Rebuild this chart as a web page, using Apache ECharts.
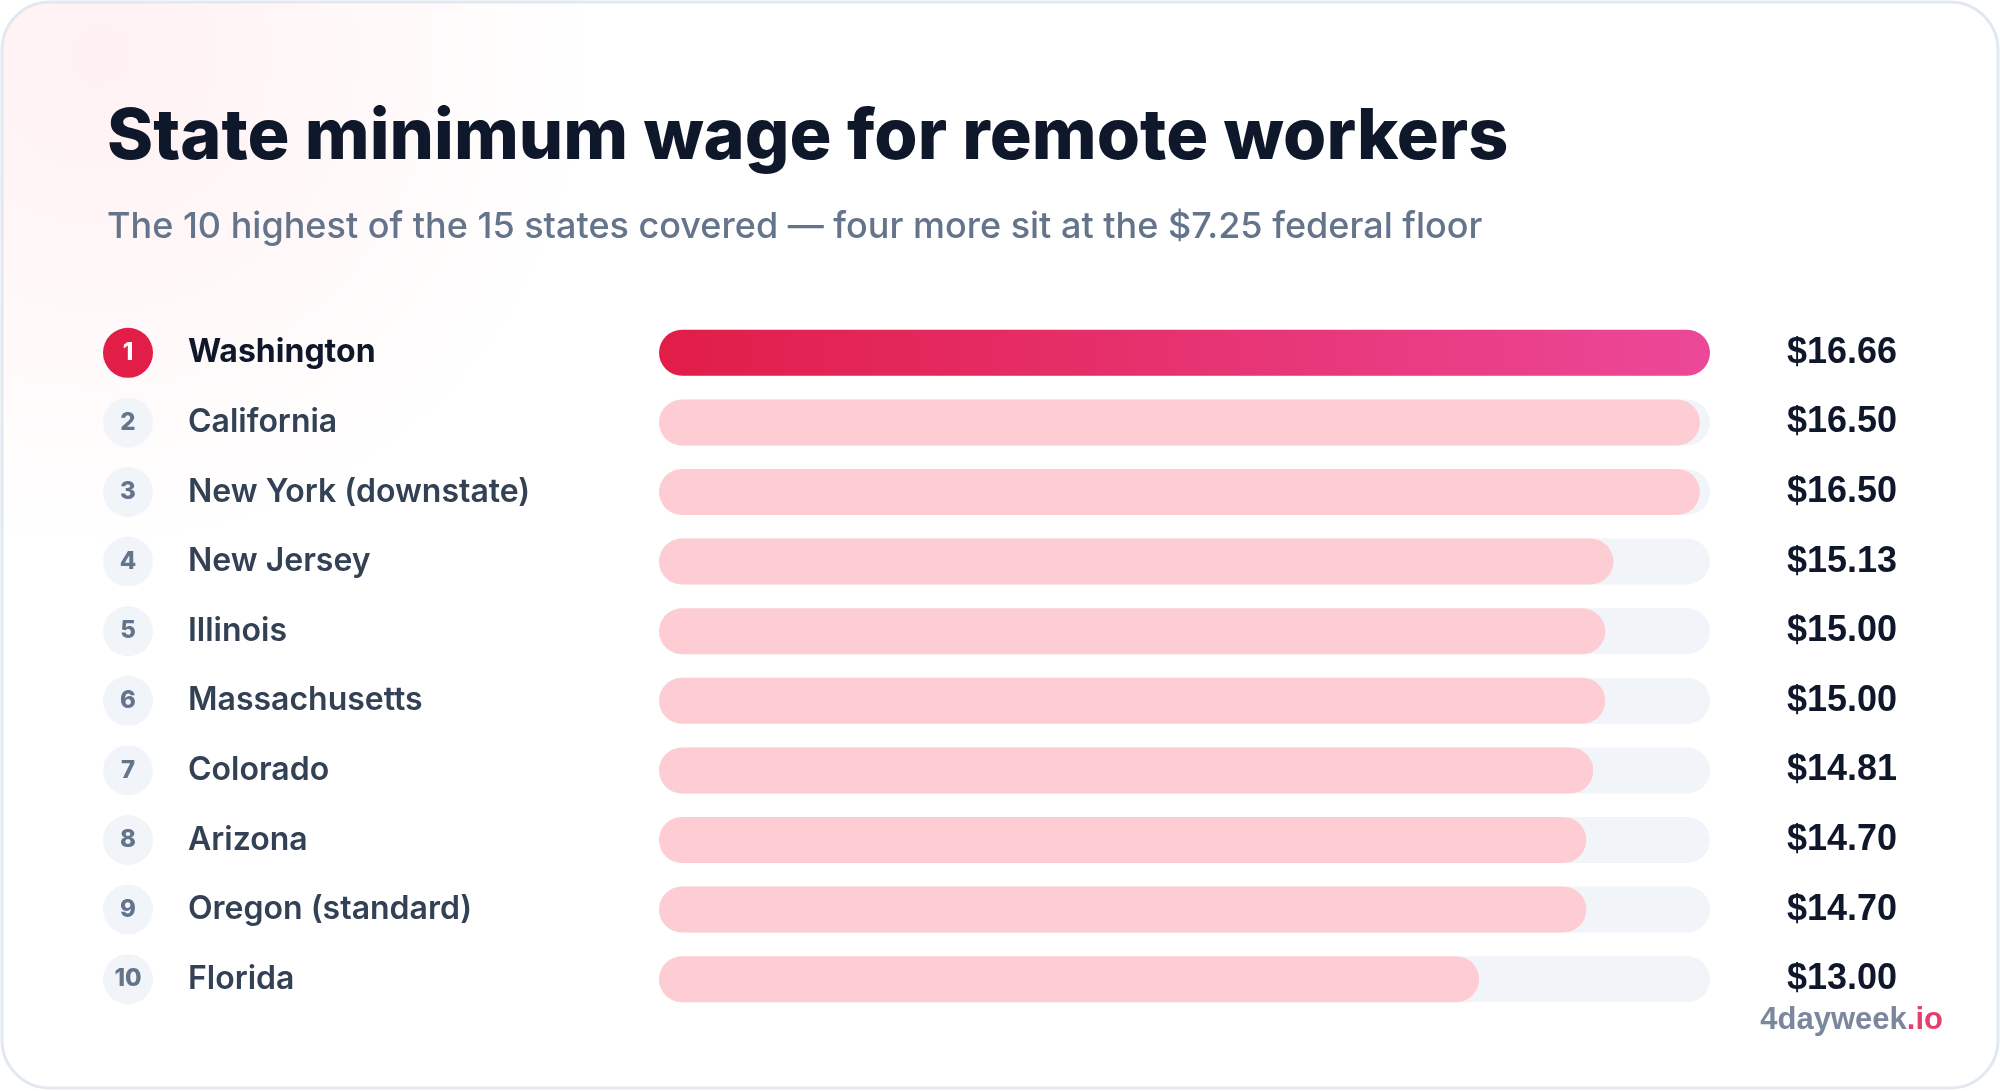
<!DOCTYPE html>
<html><head><meta charset="utf-8">
<script src="https://cdn.jsdelivr.net/npm/echarts@6/dist/echarts.min.js"></script>
<style>html,body{margin:0;padding:0;background:#fff}#c{width:2000px;height:1091px}</style>
</head><body><div id="c"></div>
<script>
const states = ['Washington','California','New York (downstate)','New Jersey','Illinois','Massachusetts','Colorado','Arizona','Oregon (standard)','Florida'];
const wages = [16.66,16.50,16.50,15.13,15.00,15.00,14.81,14.70,14.70,13.00];
const maxWage = 16.66;

const chart = echarts.init(document.getElementById('c'));
const font = 'Inter, "Noto Sans", sans-serif';
chart.setOption({
  animation:false,
  graphic:[
    {type:'rect',z:-10,shape:{x:2,y:2,width:1996,height:1086,r:48},
     style:{fill:{type:'radial',x:0.05,y:0.05,r:0.45,colorStops:[{offset:0,color:'#fff1f2'},{offset:1,color:'#ffffff'}]},stroke:'#e2e8f0',lineWidth:3}},
    {type:'text',right:57,top:1005,z:10,style:{rich:{a:{fill:'#7b879c',font:'bold 31px "Liberation Sans", Arial, sans-serif'},b:{fill:'#e83e6c',font:'bold 31px "Liberation Sans", Arial, sans-serif'}},text:'{a|4dayweek}{b|.io}'}}
  ],
  title:{left:102,top:98,text:'State minimum wage for remote workers',
    subtext:'The 10 highest of the 15 states covered — four more sit at the $7.25 federal floor',
    itemGap:36,
    textStyle:{fontFamily:font,fontSize:70,fontWeight:800,color:'#0f172a'},
    subtextStyle:{fontFamily:font,fontSize:36,fontWeight:500,color:'#64748b'}},
  grid:{left:659,right:290,top:318,bottom:77},
  xAxis:{type:'value',min:0,max:maxWage,show:false},
  yAxis:[
    {type:'category',data:states,inverse:true,axisLine:{show:false},axisTick:{show:false},
     axisLabel:{margin:556,align:'left',
       formatter:(v,i)=> i===0 ? `{r1|${i+1}}{n1|${v}}` : `{r|${i+1}}{n|${v}}`,
       rich:{
        r1:{width:50,height:50,borderRadius:25,backgroundColor:'#e11d48',color:'#fff',align:'center',fontFamily:font,fontSize:24,fontWeight:800},
        r:{width:50,height:50,borderRadius:25,backgroundColor:'#f1f5f9',color:'#64748b',align:'center',fontFamily:font,fontSize:24,fontWeight:800},
        n1:{padding:[0,0,0,35],color:'#0f172a',fontFamily:font,fontSize:32,fontWeight:700},
        n:{padding:[0,0,0,35],color:'#334155',fontFamily:font,fontSize:32,fontWeight:600}
       }}},
    {type:'category',data:wages.map(w=>'$'+w.toFixed(2)),inverse:true,position:'right',axisLine:{show:false},axisTick:{show:false},
     axisLabel:{margin:187,align:'right',color:'#0f172a',fontFamily:'"Liberation Sans", Arial, sans-serif',fontSize:36,fontWeight:'bold'}}
  ],
  series:[
    {type:'bar',data:states.map(()=>maxWage),barWidth:46,barGap:'-100%',silent:true,
     itemStyle:{color:'#f1f5f9',borderRadius:23}},
    {type:'bar',data:wages.map((w,i)=>i===0?{value:w,itemStyle:{color:{type:'linear',x:0,y:0,x2:1,y2:0,colorStops:[{offset:0,color:'#e11d48'},{offset:1,color:'#ec4899'}]}}}:w),
     barWidth:46,itemStyle:{color:'#fecdd3',borderRadius:23}}
  ]
});
</script></body></html>
